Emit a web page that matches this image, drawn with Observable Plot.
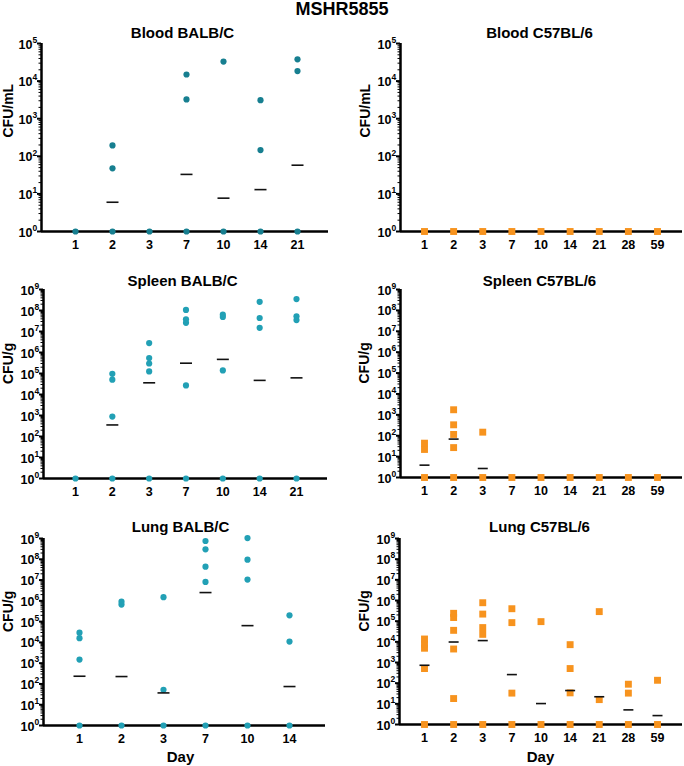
<!DOCTYPE html>
<html><head><meta charset="utf-8">
<script src="https://cdn.jsdelivr.net/npm/d3@7"></script>
<script src="https://cdn.jsdelivr.net/npm/@observablehq/plot@0.6"></script>
<style>
body{margin:0;background:#fff;font-family:"Liberation Sans",Arial,sans-serif;}
#wrap{position:relative;width:684px;height:766px;overflow:hidden;}
#title{position:absolute;left:0;top:0;width:684px;text-align:center;font-weight:bold;font-size:18px;line-height:18px;}
.panel{position:absolute;}
</style></head><body>
<div id="wrap"><div id="title">MSHR5855</div></div>
<script>
// Day categories
const balbDays = ["1","2","3","7","10","14","21"];
const balbLungDays = ["1","2","3","7","10","14"];
const c57Days = ["1","2","3","7","10","14","21","28","59"];

// Blood BALB/C (CFU/mL): individual animals and geometric means
const bloodBalbPoints = [["1",1],["2",1],["2",48],["2",195],["3",1],["7",1],["7",3250],["7",15000],["10",1],["10",33000],["14",1],["14",146],["14",3100],["21",1],["21",18500],["21",38000]];
const bloodBalbMeans = [["2",6],["7",33],["10",7.7],["14",13],["21",58]];

// Blood C57BL/6 (CFU/mL)
const bloodC57Points = [["1",1],["2",1],["3",1],["7",1],["10",1],["14",1],["21",1],["28",1],["59",1]];
const bloodC57Means = [];

// Spleen BALB/C (CFU/g)
const spleenBalbPoints = [["1",1],["2",1],["2",890],["2",51000],["2",96000],["3",1],["3",126000],["3",300000],["3",540000],["3",2800000],["7",1],["7",27000],["7",26000000],["7",38000000],["7",107000000],["10",1],["10",140000],["10",49000000],["10",63000000],["14",1],["14",15000000],["14",44000000],["14",260000000],["21",1],["21",35000000],["21",53000000],["21",350000000]];
const spleenBalbMeans = [["2",355],["3",36000],["7",310000],["10",470000],["14",47000],["21",62000]];

// Spleen C57BL/6 (CFU/g)
const spleenC57Points = [["1",1],["1",22],["1",44],["2",1],["2",27],["2",115],["2",333],["2",1750],["3",1],["3",148],["7",1],["10",1],["14",1],["21",1],["28",1],["59",1]];
const spleenC57Means = [["1",3.9],["2",69],["3",2.7]];

// Lung BALB/C (CFU/g)
const lungBalbPoints = [["1",1],["1",1490],["1",16000],["1",29500],["2",1],["2",660000],["2",910000],["3",1],["3",52],["3",1500000],["7",1],["7",8100000],["7",44000000],["7",300000000],["7",760000000],["10",1],["10",10500000],["10",96000000],["10",1050000000],["14",1],["14",11000],["14",200000]];
const lungBalbMeans = [["1",235],["2",227],["3",37],["7",2500000],["10",64000],["14",75]];

// Lung C57BL/6 (CFU/g)
const lungC57Points = [["1",1],["1",510],["1",4900],["1",7900],["1",13700],["2",1],["2",18],["2",4500],["2",36000],["2",150000],["2",240000],["3",1],["3",23000],["3",49000],["3",220000],["3",780000],["7",1],["7",33],["7",85000],["7",400000],["10",1],["10",95000],["14",1],["14",34],["14",510],["14",7300],["21",1],["21",16],["21",290000],["28",1],["28",33],["28",89],["59",1],["59",138]];
const lungC57Means = [["1",735],["2",9800],["3",11500],["7",260],["10",10.3],["14",44],["21",22],["28",5.1],["59",2.7]];

const tealDark = "#177f90";
const teal = "#22a0b5";
const orange = "#f7931e";
const FONT = "'Liberation Sans', Arial, Helvetica, sans-serif";

function meanSymbol(h) {
  return {draw(ctx) { ctx.moveTo(-h, 0); ctx.lineTo(h, 0); }};
}

function panel(c) {
  const svgTop = c.yTop - 22;
  const height = c.yBottom - svgTop + (c.xlabel ? 42 : 28);
  const n = c.days.length;
  const step = (c.lastX - c.firstX) / (n - 1);
  const lo = -(c.firstX - c.axisX) / step;
  const hi = (n - 1) + (c.xRight - c.lastX) / step;
  const idx = new Map(c.days.map((d, i) => [d, i]));
  const pts = c.points.map(([d, v]) => ({i: idx.get(d), v}));
  const ms = c.means.map(([d, v]) => ({i: idx.get(d), v}));
  const exps = d3.range(0, c.yMax + 1);
  const decades = exps.map(k => 10 ** k);
  const minor = [];
  for (let k = 0; k < c.yMax; k++) for (let m = 2; m < 10; m++) minor.push(m * 10 ** k);
  const marginLeft = c.axisX - c.left;
  const marginRight = c.left + 342 - c.xRight;
  const marginTop = c.yTop - svgTop;
  const marginBottom = height - (c.yBottom - svgTop);
  const center = (c.axisX + c.xRight) / 2;
  const marks = [
    Plot.axisY({ticks: minor, tickSize: 2.5, strokeWidth: 1, tickFormat: () => "", label: null}),
    Plot.axisY({ticks: decades, tickSize: 4, strokeWidth: 2, tickFormat: () => "", label: null}),
    Plot.text(exps, {y: k => 10 ** k, text: () => "10", frameAnchor: "left", textAnchor: "end",
      dx: -9, fontSize: 12.5, lineAnchor: "middle", dy: 1}),
    Plot.text(exps, {y: k => 10 ** k, text: k => String(k), frameAnchor: "left", textAnchor: "start",
      dx: -9, dy: -3.5, fontSize: 8.5, lineAnchor: "middle"}),
    Plot.axisX({ticks: d3.range(n), tickSize: 0, tickPadding: 9, fontSize: 12.5,
      tickFormat: i => c.days[i], label: null}),
    Plot.ruleX([lo], {strokeWidth: 2.5, stroke: "#000"}),
    Plot.ruleY([1], {strokeWidth: 2.5, stroke: "#000"}),
    Plot.dot(pts, {x: "i", y: "v", r: c.r, symbol: c.symbol, fill: c.color, stroke: "none"}),
    Plot.dot(ms, {x: "i", y: "v", symbol: meanSymbol(c.meanHalf), stroke: "#111", strokeWidth: 1.6, fill: "none"}),
    Plot.text([c.title], {text: d => d, frameAnchor: "top", dx: c.titleX - center, dy: c.titleY - c.yTop,
      fontSize: 15, lineAnchor: "middle"}),
    Plot.text([c.ylabel], {text: d => d, frameAnchor: "left", rotate: -90, dx: c.ylabelX - c.axisX,
      fontSize: 14, lineAnchor: "middle"})
  ];
  if (c.xlabel) marks.push(Plot.text([c.xlabel], {text: d => d, frameAnchor: "bottom",
    dx: c.xlabelX - center, dy: c.xlabelY - c.yBottom, fontSize: 15, lineAnchor: "middle"}));
  const chart = Plot.plot({
    width: 342, height, marginLeft, marginRight, marginTop, marginBottom,
    style: {fontFamily: FONT, fontWeight: "bold", color: "#000", background: "transparent", overflow: "visible"},
    x: {domain: [lo, hi]},
    y: {type: "log", domain: [1, 10 ** c.yMax]},
    marks
  });
  chart.classList.add("panel");
  chart.style.left = c.left + "px";
  chart.style.top = svgTop + "px";
  document.getElementById("wrap").appendChild(chart);
}

const circle = {symbol: "circle", r: 3.1, meanHalf: 6};
const square = {symbol: "square", r: 3.9, meanHalf: 5};

panel({...circle, left: 0, axisX: 41, xRight: 328, yTop: 43, yBottom: 231, firstX: 75, lastX: 297, yMax: 5,
  days: balbDays, points: bloodBalbPoints, means: bloodBalbMeans, color: tealDark,
  title: "Blood BALB/C", titleX: 182, titleY: 33, ylabel: "CFU/mL", ylabelX: 8});
panel({...square, left: 342, axisX: 400, xRight: 682, yTop: 43, yBottom: 231, firstX: 424, lastX: 657, yMax: 5,
  days: c57Days, points: bloodC57Points, means: bloodC57Means, color: orange,
  title: "Blood C57BL/6", titleX: 539, titleY: 33, ylabel: "CFU/mL", ylabelX: 365});
panel({...circle, left: 0, axisX: 43, xRight: 327, yTop: 289, yBottom: 478, firstX: 75, lastX: 296, yMax: 9,
  days: balbDays, points: spleenBalbPoints, means: spleenBalbMeans, color: teal,
  title: "Spleen BALB/C", titleX: 182, titleY: 281, ylabel: "CFU/g", ylabelX: 8});
panel({...square, left: 342, axisX: 400, xRight: 682, yTop: 289, yBottom: 477, firstX: 424, lastX: 657, yMax: 9,
  days: c57Days, points: spleenC57Points, means: spleenC57Means, color: orange,
  title: "Spleen C57BL/6", titleX: 539, titleY: 281, ylabel: "CFU/g", ylabelX: 364});
panel({...circle, left: 0, axisX: 43, xRight: 325, yTop: 538, yBottom: 725, firstX: 79, lastX: 289, yMax: 9,
  days: balbLungDays, points: lungBalbPoints, means: lungBalbMeans, color: teal,
  title: "Lung BALB/C", titleX: 180, titleY: 527, ylabel: "CFU/g", ylabelX: 8,
  xlabel: "Day", xlabelX: 180, xlabelY: 757});
panel({...square, left: 342, axisX: 399, xRight: 682, yTop: 538, yBottom: 724, firstX: 424, lastX: 657, yMax: 9,
  days: c57Days, points: lungC57Points, means: lungC57Means, color: orange,
  title: "Lung C57BL/6", titleX: 539, titleY: 527, ylabel: "CFU/g", ylabelX: 364,
  xlabel: "Day", xlabelX: 540, xlabelY: 757});
</script>
</body></html>
